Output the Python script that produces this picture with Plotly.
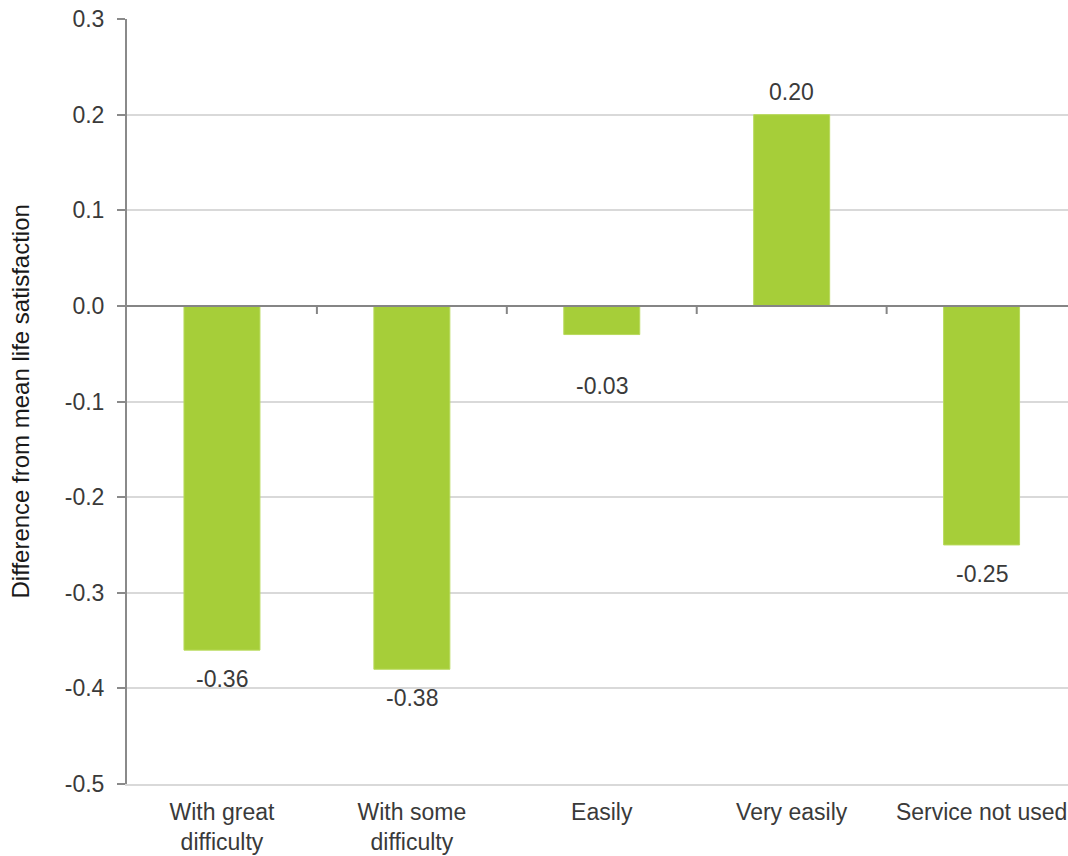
import plotly.graph_objects as go

categories = ["With great<br>difficulty", "With some<br>difficulty", "Easily", "Very easily", "Service not used"]
values = [-0.36, -0.38, -0.03, 0.20, -0.25]
value_labels = ["-0.36", "-0.38", "-0.03", "0.20", "-0.25"]
y_ticks = [0.3, 0.2, 0.1, 0.0, -0.1, -0.2, -0.3, -0.4, -0.5]
y_tick_text = ["0.3", "0.2", "0.1", "0.0", "-0.1", "-0.2", "-0.3", "-0.4", "-0.5"]

FONT = "Liberation Sans"
TEXT = "#3a3a3a"
BAR = "#a6ce39"
SIZE = 23

x_idx = list(range(len(categories)))

fig = go.Figure()
fig.add_trace(go.Bar(
    x=x_idx, y=values, width=0.4,
    marker=dict(color=BAR, line=dict(color="#b8da5c", width=1)),
    hoverinfo="skip",
))

# value labels just beyond the end of each bar
label_shift = {"-0.03": -51}
annotations = []
for xi, v, t in zip(x_idx, values, value_labels):
    shift = label_shift.get(t, 23 if v > 0 else -29)
    annotations.append(dict(x=xi, y=v, text=t, showarrow=False, xref="x", yref="y",
                            yshift=shift, yanchor="middle",
                            font=dict(family=FONT, size=SIZE, color=TEXT)))

annotations.append(dict(
    x=-0.1137, y=0.5, xref="paper", yref="paper", textangle=-90,
    text="Difference from mean life satisfaction", showarrow=False,
    xanchor="center", yanchor="middle",
    font=dict(family=FONT, size=24, color="#1a1a1a"),
))

shapes = [
    # zero baseline
    dict(type="line", xref="paper", yref="y", x0=0, x1=1, y0=0, y1=0,
         line=dict(color="#858585", width=2), layer="above"),
]
# category divider ticks hanging from the zero line
for b in [i + 0.5 for i in x_idx[:-1]]:
    shapes.append(dict(type="line", xref="x", yref="y", x0=b, x1=b, y0=0, y1=-0.0085,
                       line=dict(color="#858585", width=2)))

fig.update_layout(
    width=1068, height=856,
    margin=dict(l=127, r=0, t=19, b=72),
    plot_bgcolor="white", paper_bgcolor="white",
    showlegend=False, bargap=0.6,
    annotations=annotations, shapes=shapes,
    font=dict(family=FONT, color=TEXT),
)
fig.update_xaxes(
    range=[-0.5, 4.455], tickvals=x_idx, ticktext=categories,
    showgrid=False, zeroline=False, showline=True, linecolor="#d9d9d9", linewidth=2,
    ticks="", tickfont=dict(family=FONT, size=SIZE, color=TEXT),
    ticklabelstandoff=6,
)
fig.update_yaxes(
    range=[-0.5, 0.3], tickvals=y_ticks, ticktext=y_tick_text,
    showgrid=True, gridcolor="#d9d9d9", gridwidth=1.5, zeroline=False,
    showline=True, linecolor="#8a8a8a", linewidth=2,
    ticks="outside", ticklen=8, tickcolor="#8a8a8a", tickwidth=2,
    tickfont=dict(family=FONT, size=SIZE, color=TEXT), ticklabelstandoff=8,
)

fig.write_html("out.html")
